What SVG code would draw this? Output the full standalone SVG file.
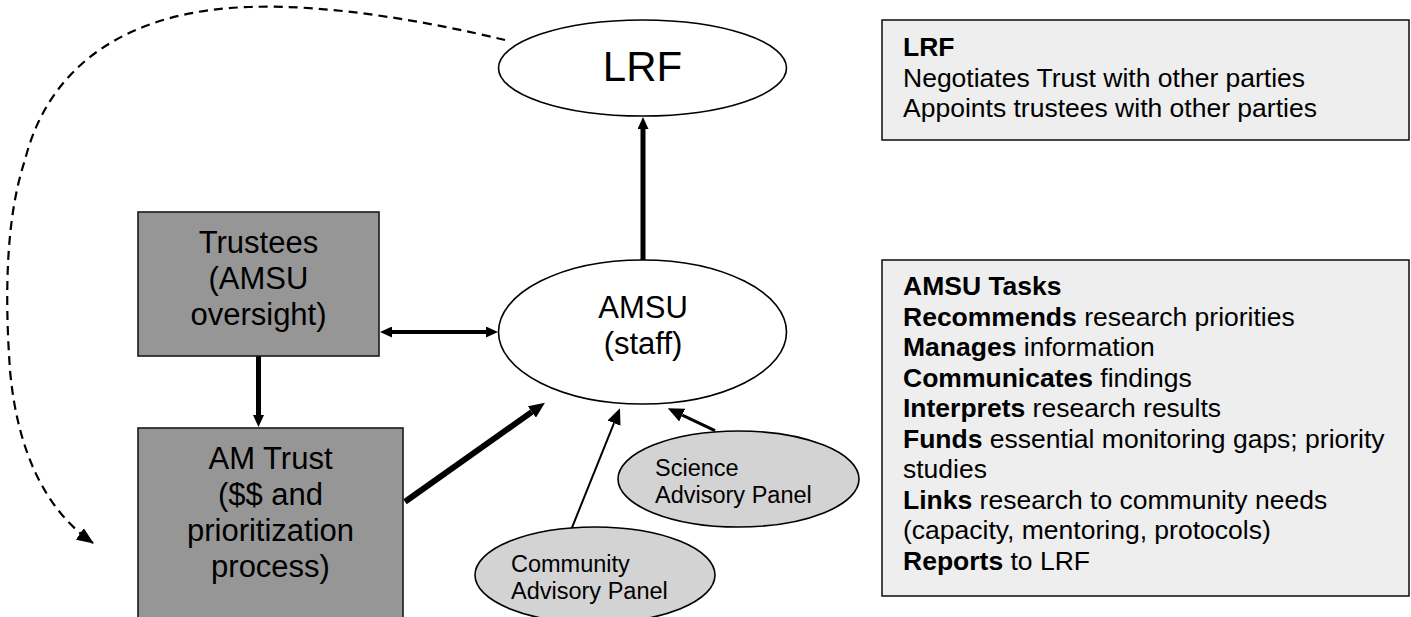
<svg xmlns="http://www.w3.org/2000/svg" width="1411" height="617" viewBox="0 0 1411 617">
<defs>
<style>
text{font-family:"Liberation Sans",Arial,sans-serif;fill:#000}
.box{fill:#969696;stroke:#1a1a1a;stroke-width:1.6}
.note{fill:#eeeeee;stroke:#1a1a1a;stroke-width:1.6}
.ell{fill:#fff;stroke:#000;stroke-width:1.6}
.pan{fill:#d3d3d3;stroke:#000;stroke-width:1.6}
.big{font-size:31px;text-anchor:middle}
.sm{font-size:23.5px}
.nt{font-size:26.5px}
.b{font-weight:bold}
.c{stroke:#000;fill:none}
</style>
<marker id="m1" markerUnits="userSpaceOnUse" markerWidth="12" markerHeight="11" refX="0" refY="5.5" orient="auto-start-reverse"><path d="M0,0 L12,5.5 L0,11 z" fill="#000"/></marker>
<marker id="m2" markerUnits="userSpaceOnUse" markerWidth="16" markerHeight="14" refX="0" refY="7" orient="auto"><path d="M0,0 L16,7 L0,14 z" fill="#000"/></marker>
<marker id="m3" markerUnits="userSpaceOnUse" markerWidth="17" markerHeight="14" refX="16" refY="7" orient="auto"><path d="M0,0 L17,7 L0,14 z" fill="#000"/></marker>
</defs>
<rect width="1411" height="617" fill="#fff"/>

<g id="connectors">
<path class="c" d="M505,40 C430,22 330,4 250,7 C135,10 50,60 25,160 C5,220 5,300 10,370 C17,450 45,510 93,543" stroke-width="2.2" stroke-dasharray="9,6" marker-end="url(#m3)"/>
<line class="c" x1="643" y1="260" x2="643" y2="129" stroke-width="5" marker-end="url(#m1)"/>
<line class="c" x1="258.5" y1="356" x2="258.5" y2="415" stroke-width="5" marker-end="url(#m1)"/>
<line class="c" x1="392" y1="332" x2="486" y2="332" stroke-width="4" marker-start="url(#m1)" marker-end="url(#m1)"/>
<line class="c" x1="405" y1="501.7" x2="531.9" y2="411.9" stroke-width="6" marker-end="url(#m2)"/>
<line class="c" x1="571.7" y1="528.3" x2="614" y2="423.1" stroke-width="2" marker-end="url(#m2)"/>
<line class="c" x1="715" y1="430.7" x2="682.2" y2="415.1" stroke-width="3" marker-end="url(#m2)"/>
</g>

<g id="lrf">
<ellipse class="ell" cx="642.5" cy="68" rx="144" ry="48"/>
<text x="642.5" y="81" font-size="42" text-anchor="middle">LRF</text>
</g>

<g id="amsu">
<ellipse class="ell" cx="642.5" cy="332" rx="144" ry="72"/>
<text class="big" x="643" y="318">AMSU</text>
<text class="big" x="643" y="354">(staff)</text>
</g>

<g id="trustees">
<rect class="box" x="138" y="212" width="241" height="144"/>
<text class="big" x="258.5" y="253">Trustees</text>
<text class="big" x="258.5" y="289">(AMSU</text>
<text class="big" x="258.5" y="325">oversight)</text>
</g>

<g id="amtrust">
<rect class="box" x="138" y="428" width="265" height="200"/>
<text class="big" x="270.5" y="469">AM Trust</text>
<text class="big" x="270.5" y="505">($$ and</text>
<text class="big" x="270.5" y="541">prioritization</text>
<text class="big" x="270.5" y="577">process)</text>
</g>

<g id="science">
<ellipse class="pan" cx="738.5" cy="479" rx="120.5" ry="48"/>
<text class="sm" x="655" y="476">Science</text>
<text class="sm" x="655" y="503">Advisory Panel</text>
</g>

<g id="community">
<ellipse class="pan" cx="595" cy="575" rx="120" ry="48"/>
<text class="sm" x="511" y="572">Community</text>
<text class="sm" x="511" y="598.5">Advisory Panel</text>
</g>

<g id="lrf-note">
<rect class="note" x="882" y="20" width="527" height="120"/>
<text class="nt b" x="903" y="56">LRF</text>
<text class="nt" x="903" y="87">Negotiates Trust with other parties</text>
<text class="nt" x="903" y="117">Appoints trustees with other parties</text>
</g>

<g id="amsu-note">
<rect class="note" x="882" y="260" width="527" height="336"/>
<text class="nt" x="903" y="295"><tspan class="b">AMSU Tasks</tspan></text>
<text class="nt" x="903" y="325.5"><tspan class="b">Recommends</tspan> research priorities</text>
<text class="nt" x="903" y="356"><tspan class="b">Manages</tspan> information</text>
<text class="nt" x="903" y="386.5"><tspan class="b">Communicates</tspan> findings</text>
<text class="nt" x="903" y="417"><tspan class="b">Interprets</tspan> research results</text>
<text class="nt" x="903" y="447.5"><tspan class="b">Funds</tspan> essential monitoring gaps; priority</text>
<text class="nt" x="903" y="478">studies</text>
<text class="nt" x="903" y="508.5"><tspan class="b">Links</tspan> research to community needs</text>
<text class="nt" x="903" y="539">(capacity, mentoring, protocols)</text>
<text class="nt" x="903" y="569.5"><tspan class="b">Reports</tspan> to LRF</text>
</g>
</svg>
